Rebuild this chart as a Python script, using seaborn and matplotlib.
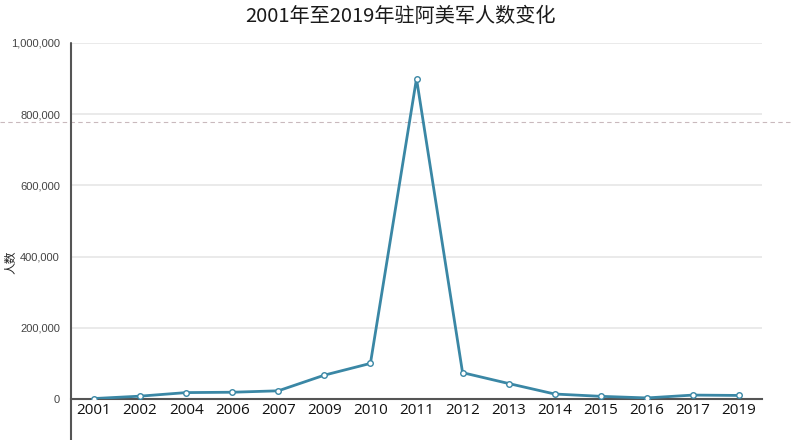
import pandas as pd
import seaborn as sns
import matplotlib.pyplot as plt

# data
years = ['2001', '2002', '2004', '2006', '2007', '2009', '2010', '2011',
         '2012', '2013', '2014', '2015', '2016', '2017', '2019']
troops = [1300, 8000, 18000, 19000, 23000, 67000, 100000, 900000,
          74000, 43500, 14000, 7500, 3000, 11000, 10000]
y_ticks = [0, 200000, 400000, 600000, 800000, 1000000]
ref_value = 778000

df = pd.DataFrame({'year': years, 'troops': troops})

sns.set_style('white')
plt.rcParams['font.family'] = ['Noto Sans CJK SC', 'DejaVu Sans']

fig = plt.figure(figsize=(7.93, 4.40), dpi=100)
ax = fig.add_axes([71 / 793, 1 - 399 / 440, 691 / 793, 356 / 440])

line_col = '#3a87a5'
sns.lineplot(data=df, x='year', y='troops', ax=ax, color=line_col, linewidth=2,
             marker='o', markersize=4, markerfacecolor='white',
             markeredgecolor=line_col, markeredgewidth=1, zorder=5)

ax.set_xlim(-0.5, len(years) - 0.5)
ax.set_ylim(0, 1000000)

# grid
for v in y_ticks[1:]:
    ax.axhline(v, color='#e6e6e6', linewidth=1.2, zorder=1)

# dashed reference line across whole width
ax.axhline(ref_value, xmin=-71 / 691, xmax=(793 - 71) / 691, color='#c9b9bd',
           linewidth=0.8, linestyle=(0, (4, 3)), clip_on=False, zorder=2)

# y axis
ax.set_yticks(y_ticks)
ax.set_yticklabels([f'{v:,}' for v in y_ticks], fontsize=8, color='#444444',
                   family=['Liberation Sans', 'DejaVu Sans'])
ax.tick_params(axis='y', length=5, width=1.2, color='#555555', pad=3)

# x axis: labels at centers, ticks at band edges
ax.set_xticks(range(len(years)))
ax.set_xticklabels(years, fontsize=11, color='#111111',
                   family=['Open Sans', 'DejaVu Sans'])
ax.tick_params(axis='x', which='major', length=0, pad=3)
ax.set_xticks([i + 0.5 for i in range(len(years))], minor=True)
ax.tick_params(axis='x', which='minor', length=5, width=1.2, color='#555555')

for s in ['top', 'right', 'left']:
    ax.spines[s].set_visible(False)
ax.spines['bottom'].set_color('#555555')
ax.spines['bottom'].set_linewidth(1.5)
# left axis line runs below the x axis
ax.plot([0, 0], [-0.13, 1.0], transform=ax.transAxes, color='#555555',
        linewidth=1.5, clip_on=False, zorder=6)

ax.set_xlabel('')
ax.set_ylabel('人数', fontsize=8.5, color='#222222')
ax.yaxis.set_label_coords(-54 / 691, (399 - 262) / 356)

fig.text(400 / 793, 1 - 17 / 440, '2001年至2019年驻阿美军人数变化',
         ha='center', va='center', fontsize=14.5, color='#1a1a1a',
         fontweight='medium')

fig.savefig('out.png', dpi=100)
